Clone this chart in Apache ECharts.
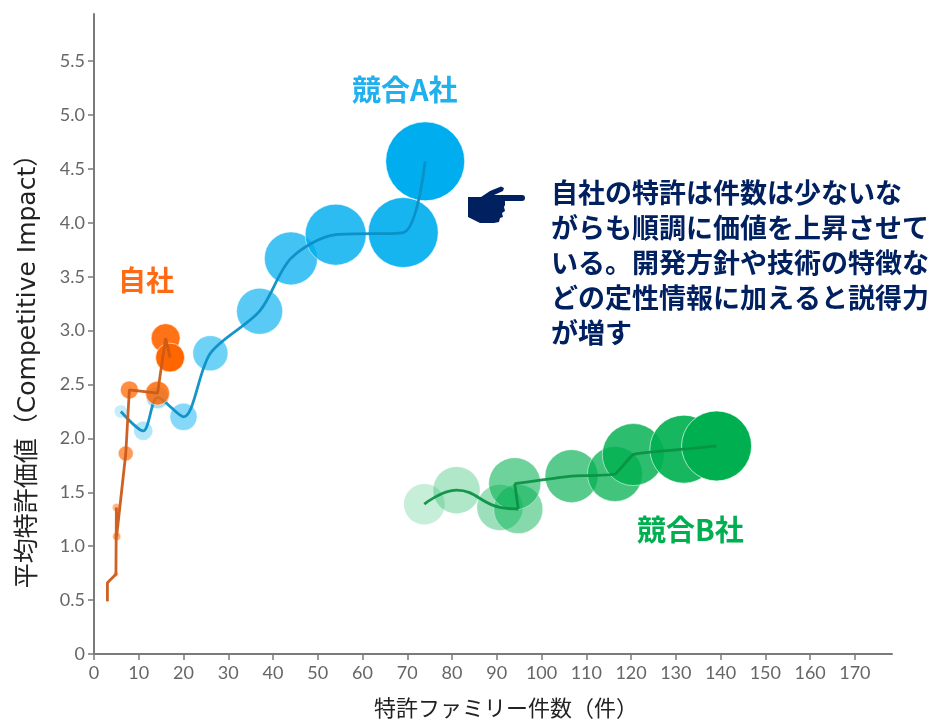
<!DOCTYPE html>
<html lang="ja">
<head>
<meta charset="utf-8">
<title>特許ファミリー件数と平均特許価値</title>
<script src="https://cdn.jsdelivr.net/npm/echarts@6/dist/echarts.min.js"></script>
<style>
  html, body { margin: 0; padding: 0; background: #fff; }
  #chart { width: 933px; height: 720px; }
</style>
</head>
<body>
<div id="chart"></div>
<script>
// Yearly track per company: patent families, mean patent value, bubble weight
const ownFamilies = [3, 3, 4.9, 5, 5.05, 7.1, 7.9, 14.2, 16, 17];
const ownImpact   = [0.49, 0.66, 0.74, 1.36, 1.09, 1.86, 2.45, 2.42, 2.93, 2.75];
const ownBubble   = [2, 2, 5, 8, 8, 15, 18, 24, 29, 29];

const rivalAFamilies = [6, 11, 14.2, 20, 26, 37, 44, 54, 69.1, 74];
const rivalAImpact   = [2.25, 2.07, 2.38, 2.2, 2.79, 3.18, 3.67, 3.89, 3.91, 4.57];
const rivalABubble   = [13, 19, 22, 27, 35, 46, 53, 61, 70, 79];

const rivalBFamilies = [73.8, 81, 90.7, 94.8, 94, 106.7, 116.4, 120.5, 131.8, 139.1];
const rivalBImpact   = [1.39, 1.52, 1.36, 1.345, 1.58, 1.65, 1.67, 1.85, 1.9, 1.93];
const rivalBBubble   = [41, 47, 46, 49, 52, 53, 55, 62, 68, 70];

const xTickValues = [0, 10, 20, 30, 40, 50, 60, 70, 80, 90, 100, 110, 120, 130, 140, 150, 160, 170];
const yTickValues = [0, 0.5, 1, 1.5, 2, 2.5, 3, 3.5, 4, 4.5, 5, 5.5];

const noteLines = [
  '自社の特許は件数は少ないな',
  'がらも順調に価値を上昇させて',
  'いる。開発方針や技術の特徴な',
  'どの定性情報に加えると説得力',
  'が増す'
];

const JP_FONT = '"Noto Sans CJK JP", "Noto Sans", sans-serif';
const TITLE_FONT = '"DejaVu Sans", "Noto Sans CJK JP", sans-serif';
const TICK_FONT = 'Lato, "Open Sans", sans-serif';

const toTriples = (xs, ys, ds) => xs.map((x, i) => [x, ys[i], ds[i]]);

// One company: fading bubbles plus trend-line stretches, each [from, to, smoothing]
function company(name, xs, ys, ds, fill, lineColor, stretches, z) {
  const points = toTriples(xs, ys, ds);
  const last = points.length - 1;
  const bubbles = {
    name,
    type: 'scatter',
    z,
    data: points.map((p, i) => ({
      value: p,
      itemStyle: { opacity: 0.22 + 0.78 * (i / last) }
    })),
    symbolSize: v => v[2],
    itemStyle: { color: fill, borderColor: 'rgba(255,255,255,0.65)', borderWidth: 1 },
    silent: true
  };
  const lines = stretches.map(([from, to, smooth]) => ({
    name: name + ' 推移',
    type: 'line',
    z: z + 1,
    data: points.slice(from, to + 1),
    encode: { x: 0, y: 1 },
    showSymbol: false,
    smooth,
    lineStyle: { color: lineColor, width: 2.8, opacity: 0.95 },
    silent: true
  }));
  return [bubbles, ...lines];
}

const chart = echarts.init(document.getElementById('chart'), null, { renderer: 'canvas' });

chart.setOption({
  animation: false,
  backgroundColor: '#ffffff',
  grid: { left: 94, top: 14, width: 798, height: 640, containLabel: false, outerBoundsMode: 'none' },
  xAxis: {
    type: 'value',
    min: 0,
    max: 178.3,
    splitLine: { show: false },
    name: '特許ファミリー件数（件）',
    nameLocation: 'middle',
    nameGap: 43,
    nameTextStyle: { fontFamily: JP_FONT, fontSize: 22, color: '#222222', padding: [0, 0, 0, 26] },
    axisLine: { show: true, lineStyle: { color: '#7a7a7a', width: 2 } },
    axisTick: { show: true, length: 6, customValues: xTickValues, lineStyle: { color: '#7a7a7a', width: 1.5 } },
    axisLabel: {
      customValues: xTickValues,
      fontFamily: TICK_FONT, fontSize: 18, color: '#666666', margin: 10
    }
  },
  yAxis: {
    type: 'value',
    min: 0,
    max: 5.937,
    splitLine: { show: false },
    name: '平均特許価値（Competitive Impact）',
    nameLocation: 'middle',
    nameGap: 53,
    nameTextStyle: { fontFamily: TITLE_FONT, fontSize: 25, color: '#222222', padding: [0, 62, 0, 0] },
    axisLine: { show: true, lineStyle: { color: '#7a7a7a', width: 2 } },
    axisTick: { show: true, length: 6, customValues: yTickValues, lineStyle: { color: '#7a7a7a', width: 1.5 } },
    axisLabel: {
      customValues: yTickValues,
      formatter: v => (v === 0 ? '0' : v.toFixed(1)),
      fontFamily: TICK_FONT, fontSize: 18, color: '#666666', margin: 9
    }
  },
  series: [
    ...company('競合A社', rivalAFamilies, rivalAImpact, rivalABubble, '#00aeef', '#0b8fc6', [[0, 9, 0.3]], 2),
    ...company('競合B社', rivalBFamilies, rivalBImpact, rivalBBubble, '#00b050', '#0c9145', [[0, 3, 0.45], [3, 4, false], [4, 9, 0.12]], 2),
    ...company('自社', ownFamilies, ownImpact, ownBubble, '#ff6600', '#cc5a17', [[0, 9, false]], 4)
  ],
  graphic: [
    { type: 'text', left: 352, top: 75, style: { text: '競合A社', fill: '#20b0ee', font: 'bold 29px ' + JP_FONT } },
    { type: 'text', left: 118, top: 266, style: { text: '自社', fill: '#ff6a13', font: 'bold 28px ' + JP_FONT } },
    { type: 'text', left: 637, top: 515, style: { text: '競合B社', fill: '#00b050', font: 'bold 29px ' + JP_FONT } },
    {
      type: 'text', left: 551, top: 175,
      style: { text: noteLines.join('\n'), fill: '#002060', font: 'bold 27px ' + JP_FONT, lineHeight: 35 }
    },
    // Pointing hand beside the note: palm, index finger and thumb
    {
      type: 'polygon',
      shape: { points: [[468, 197], [481, 197], [490, 191], [501, 186.5], [504, 188], [503, 191], [494, 195], [505, 195], [505, 205], [504, 207], [505, 211], [502, 213], [503, 217], [500, 218], [499, 222], [494, 223], [480, 223], [468, 217]] },
      style: { fill: '#002060' }
    },
    {
      type: 'rect',
      shape: { x: 496, y: 195, width: 29, height: 6, r: 3 },
      style: { fill: '#002060' }
    }
  ]
});
</script>
</body>
</html>
